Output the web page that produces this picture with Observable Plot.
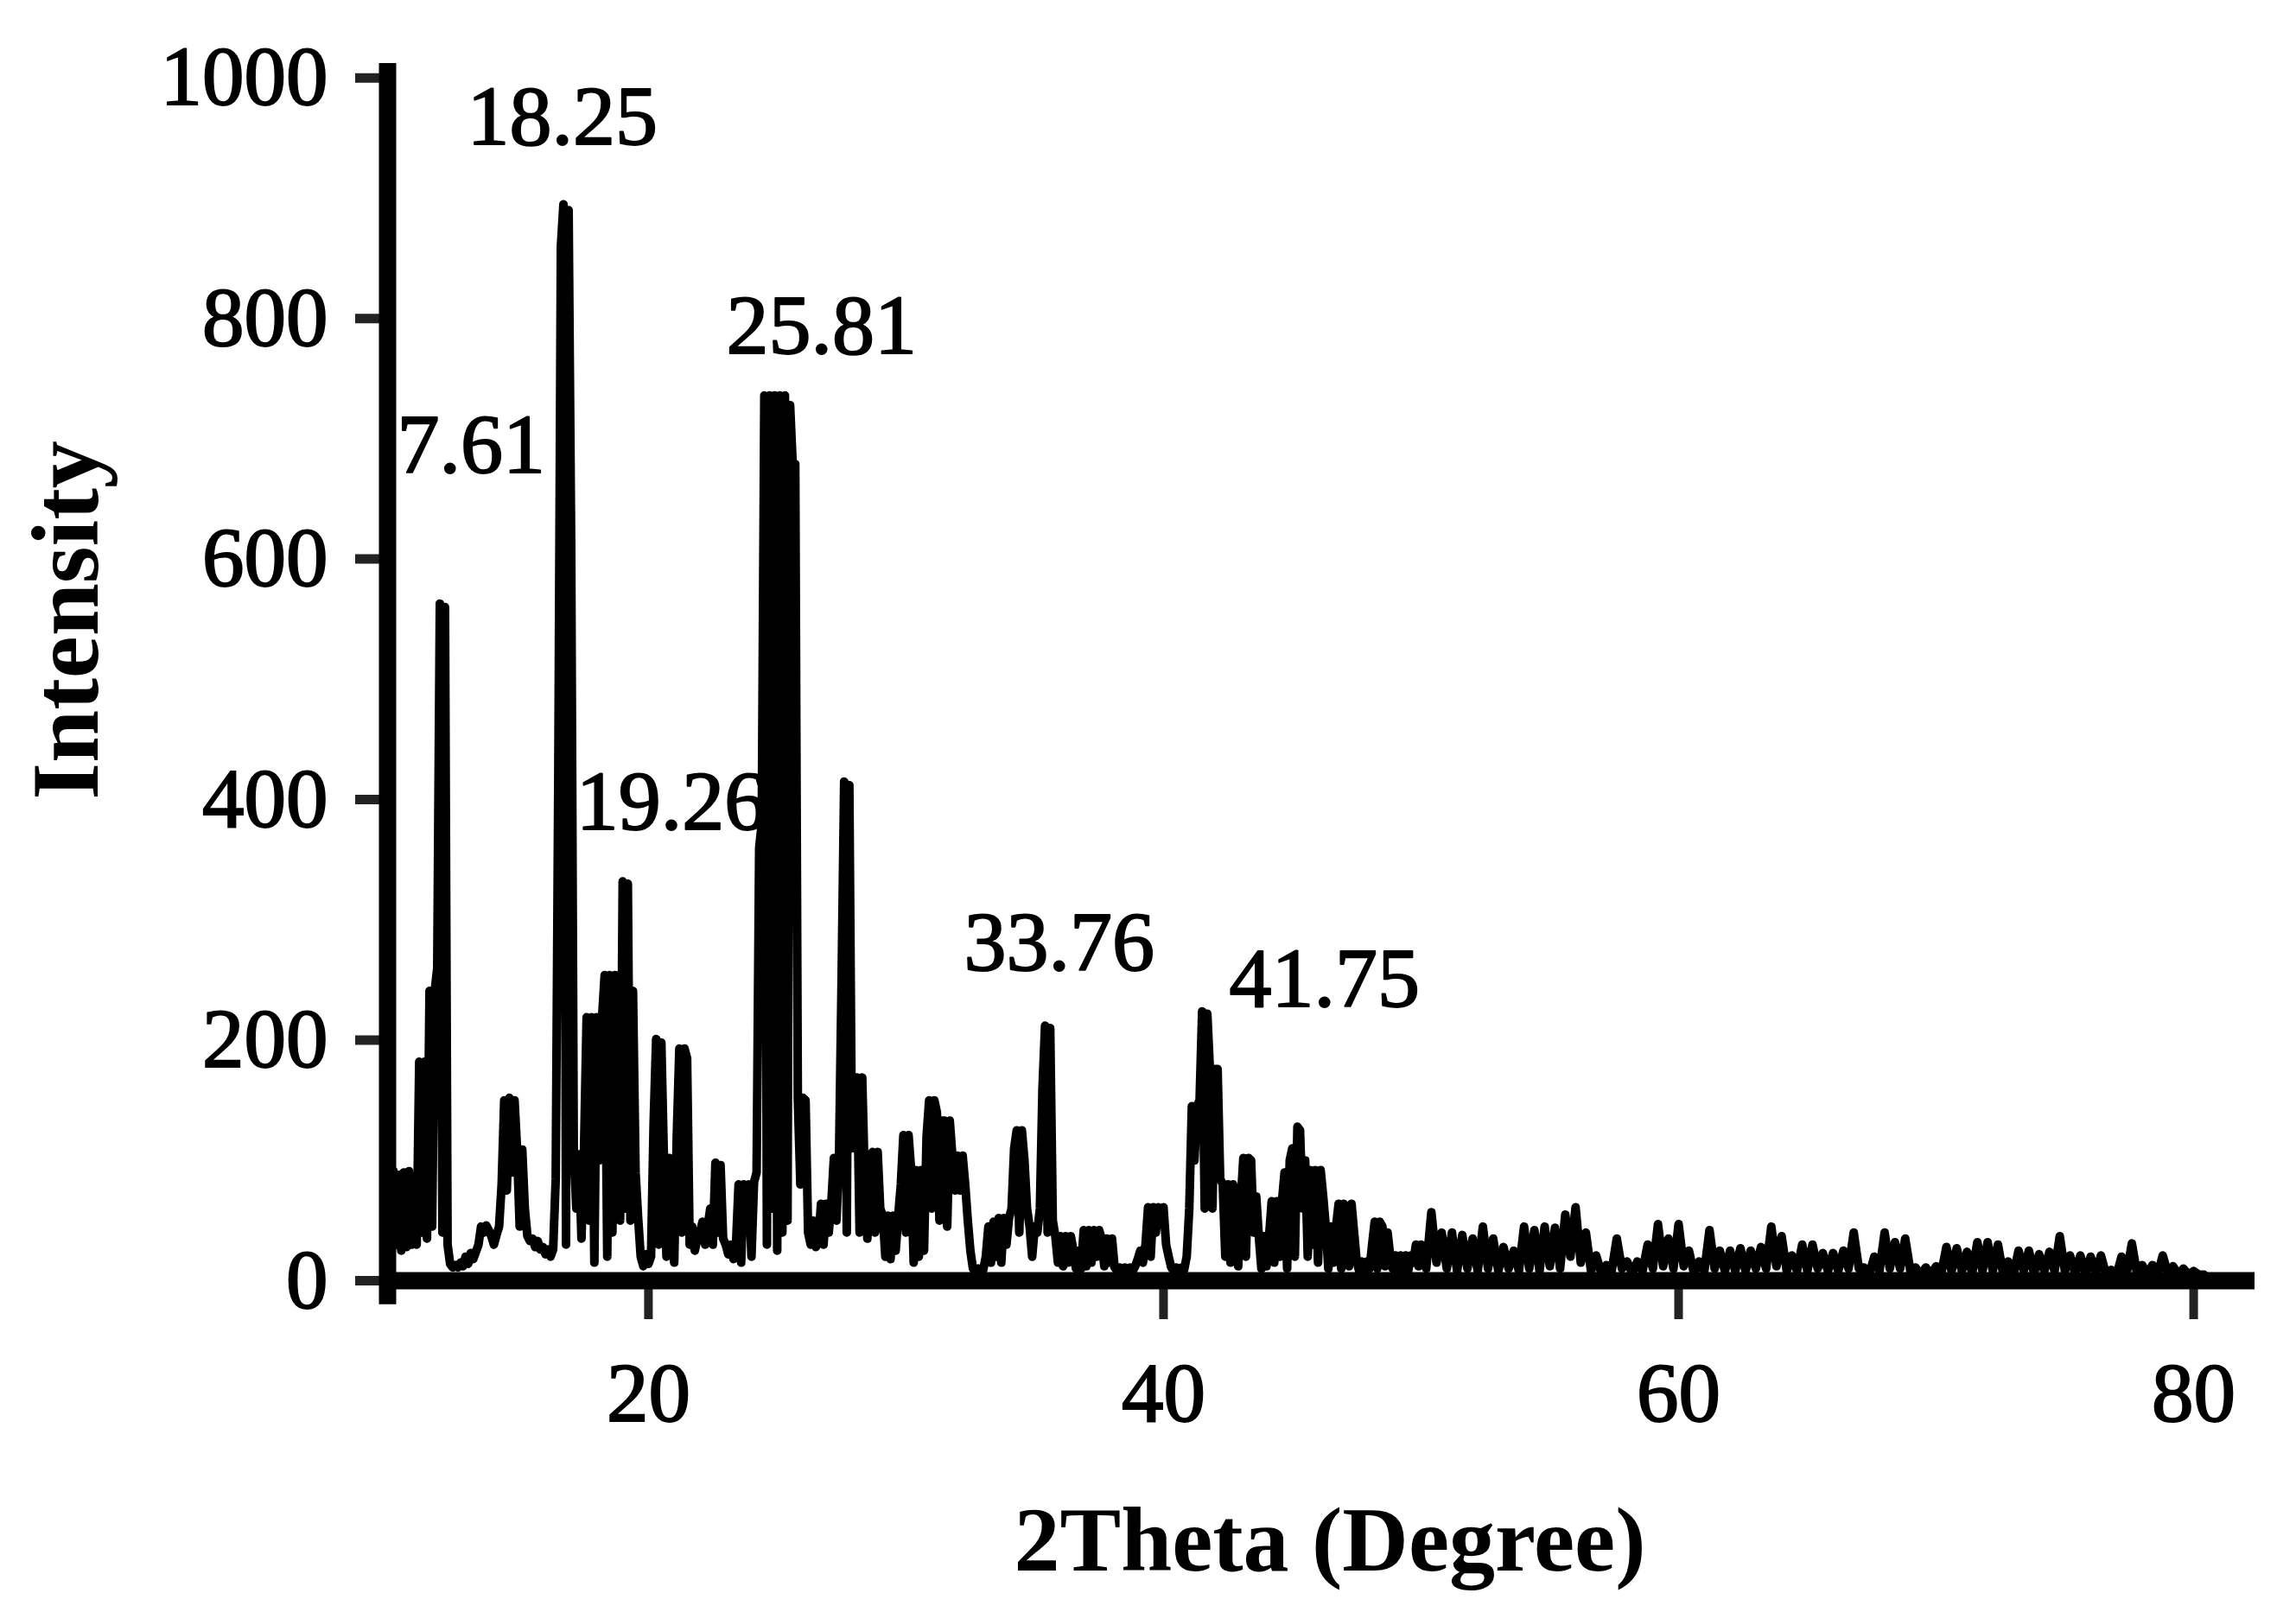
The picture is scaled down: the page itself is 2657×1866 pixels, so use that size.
<!DOCTYPE html>
<html>
<head>
<meta charset="utf-8">
<script src="https://cdn.jsdelivr.net/npm/d3@7"></script>
<script src="https://cdn.jsdelivr.net/npm/@observablehq/plot@0.6"></script>
<style>
  html, body { margin: 0; padding: 0; background: #fff; overflow: hidden; }
  svg { display: block; }
</style>
</head>
<body>
<div id="chart"></div>
<script>
// ---- Data ----
const xTicks = [20, 40, 60, 80];
const yTicks = [0, 200, 400, 600, 800, 1000];

// XRD scan, 2θ from 10.0 to 19.9 in 0.1° steps
const scan10to20 = [
  60, 91, 30, 88, 25, 90, 28, 91, 30, 85,
  30, 182, 40, 182, 35, 241, 45, 241, 260, 563,
  40, 560, 30, 14, 11, 13, 11, 15, 12, 20,
  14, 23, 18, 24, 30, 45, 40, 46, 42, 37,
  30, 38, 45, 80, 150, 75, 152, 90, 150, 109,
  45, 109, 60, 37, 33, 35, 28, 33, 26, 28,
  22, 26, 20, 26, 85, 420, 860, 895, 30, 890,
  610, 109, 60, 105, 35, 110, 219, 50, 219, 15,
  219, 100, 219, 254, 20, 254, 40, 254, 226, 50,
  332, 60, 330, 50, 241, 90, 52, 20, 12, 22
];
// 2θ 20.0 – 29.9, 0.1° steps
const scan20to30 = [
  14, 20, 130, 201, 30, 198, 102, 20, 102, 60,
  15, 120, 193, 40, 193, 185, 30, 45, 25, 35,
  40, 49, 30, 45, 60, 30, 98, 40, 96, 35,
  30, 22, 30, 18, 30, 80, 15, 80, 60, 80,
  20, 82, 90, 360, 380, 736, 30, 736, 60, 736,
  25, 736, 40, 736, 50, 728, 679, 679, 152, 80,
  152, 150, 40, 30, 50, 28, 32, 64, 30, 64,
  40, 64, 102, 50, 102, 250, 415, 40, 412, 110,
  169, 169, 40, 169, 83, 35, 83, 107, 40, 107,
  60, 54, 20, 54, 18, 54, 25, 54, 80, 121
];
// 2θ 30.0 – 39.9, 0.1° steps
const scan30to40 = [
  40, 121, 92, 15, 92, 20, 92, 25, 120, 150,
  60, 150, 140, 50, 133, 133, 45, 133, 104, 75,
  104, 75, 104, 80, 50, 25, 10, 8, 10, 8,
  9, 20, 45, 15, 49, 20, 52, 15, 52, 30,
  52, 60, 110, 125, 40, 125, 100, 60, 45, 20,
  45, 40, 60, 160, 212, 40, 210, 50, 37, 15,
  37, 12, 37, 15, 37, 25, 10, 25, 10, 42,
  12, 42, 15, 42, 20, 42, 35, 12, 35, 15,
  35, 11, 8, 11, 8, 11, 7, 11, 8, 12,
  18, 25, 15, 30, 61, 20, 61, 40, 61, 55
];
// 2θ 40.0 – 49.9, 0.1° steps
const scan40to50 = [
  61, 30, 20, 11, 8, 11, 7, 11, 9, 20,
  60, 145, 100, 145, 150, 224, 60, 222, 176, 60,
  176, 176, 85, 80, 20, 80, 15, 80, 66, 12,
  66, 102, 20, 102, 100, 40, 70, 37, 10, 37,
  12, 37, 66, 15, 66, 20, 66, 90, 10, 100,
  110, 20, 128, 125, 60, 100, 20, 92, 30, 92,
  15, 92, 70, 45, 10, 45, 15, 45, 64, 10,
  64, 60, 12, 64, 40, 16, 8, 16, 8, 16,
  10, 30, 49, 10, 49, 45, 12, 40, 21, 10,
  21, 8, 21, 10, 21, 8, 21, 15, 30, 12
];
// 2θ 50.0 – 80.4, 0.2° steps
const scan50to80 = [
  30, 10, 57, 15, 40, 10, 40, 8, 38, 10,
  35, 8, 45, 10, 35, 8, 28, 10, 25, 8,
  45, 10, 42, 8, 45, 12, 44, 10, 55, 20,
  61, 15, 40, 8, 21, 6, 13, 8, 35, 10,
  16, 6, 16, 8, 30, 10, 47, 12, 35, 10,
  47, 12, 25, 6, 16, 8, 42, 10, 25, 8,
  25, 8, 27, 8, 25, 10, 28, 10, 45, 12,
  37, 8, 21, 8, 30, 8, 30, 10, 23, 8,
  23, 8, 25, 10, 40, 10, 11, 5, 20, 8,
  40, 10, 32, 10, 35, 8, 11, 5, 11, 5,
  12, 6, 28, 8, 27, 8, 24, 6, 32, 8,
  32, 8, 30, 6, 16, 5, 25, 8, 25, 6,
  22, 8, 24, 8, 37, 8, 21, 6, 21, 6,
  20, 6, 21, 5, 9, 4, 20, 6, 31, 6,
  13, 5, 13, 5, 21, 6, 12, 5, 10, 5,
  8, 5, 5
];

// Peak annotations (text, and where each label sits in 2θ / intensity)
const peakLabels = ["7.61", "18.25", "25.81", "19.26", "33.76", "41.75"];
const labelTheta = [10.24, 12.96, 23.02, 17.19, 32.25, 42.55];
const labelIntensity = [672, 945, 771, 375, 258, 228];

// ---- Build tables for Plot ----
const segments = [
  {start: 10, step: 0.1, values: scan10to20},
  {start: 20, step: 0.1, values: scan20to30},
  {start: 30, step: 0.1, values: scan30to40},
  {start: 40, step: 0.1, values: scan40to50},
  {start: 50, step: 0.2, values: scan50to80}
];
const points = segments.flatMap(s =>
  s.values.map((v, i) => ({theta: +(s.start + i * s.step).toFixed(2), intensity: v}))
);
const labels = peakLabels.map((t, i) => ({label: t, theta: labelTheta[i], intensity: labelIntensity[i]}));

const FONT = "'Liberation Serif', 'Times New Roman', Times, serif";
const xDomain = [9.87, 82.38];
const yDomain = [0, 1012];

const chart = Plot.plot({
  width: 2657,
  height: 1866,
  marginLeft: 448,
  marginRight: 48,
  marginTop: 73,
  marginBottom: 384,
  x: {domain: xDomain},
  y: {domain: yDomain},
  style: {fontFamily: FONT, background: "#fff", color: "#000", overflow: "visible", maxWidth: "none"},
  marks: [
    Plot.axisY({
      ticks: yTicks, tickSize: 37, tickPadding: 32, strokeWidth: 11, stroke: "#222",
      fontSize: 97, label: null, tickFormat: d => String(d)
    }),
    Plot.axisX({
      ticks: xTicks, tickSize: 45, tickPadding: 49, strokeWidth: 10, stroke: "#222",
      fontSize: 97, label: null, tickFormat: d => String(d)
    }),
    Plot.line(points, {
      x: "theta", y: "intensity", stroke: "#000", strokeWidth: 10, strokeLinejoin: "round"
    }),
    Plot.ruleY([0], {x1: xDomain[0], x2: xDomain[1], stroke: "#000", strokeWidth: 20}),
    Plot.ruleX([xDomain[0]], {y1: -20, y2: yDomain[1], stroke: "#000", strokeWidth: 20}),
    Plot.text(labels, {
      x: "theta", y: "intensity", text: "label", textAnchor: "start", lineAnchor: "bottom",
      fontSize: 98, fill: "#000", stroke: "#000", strokeWidth: 2
    }),
    Plot.text(["2Theta (Degree)"], {
      frameAnchor: "bottom", dx: 10, dy: 335, lineAnchor: "bottom", textAnchor: "middle",
      fontSize: 106, fontWeight: "bold", fill: "#000"
    }),
    Plot.text(["Intensity"], {
      frameAnchor: "left", rotate: -90, dx: -336, dy: -60, lineAnchor: "bottom", textAnchor: "middle",
      fontSize: 110, fontWeight: "bold", fill: "#000"
    })
  ]
});
// slightly heavier tick numerals, as in the original figure
d3.select(chart).selectAll('g[aria-label$="tick label"] text')
  .attr("stroke", "#000").attr("stroke-width", 2).attr("paint-order", "stroke");
document.getElementById("chart").appendChild(chart);
</script>
</body>
</html>
